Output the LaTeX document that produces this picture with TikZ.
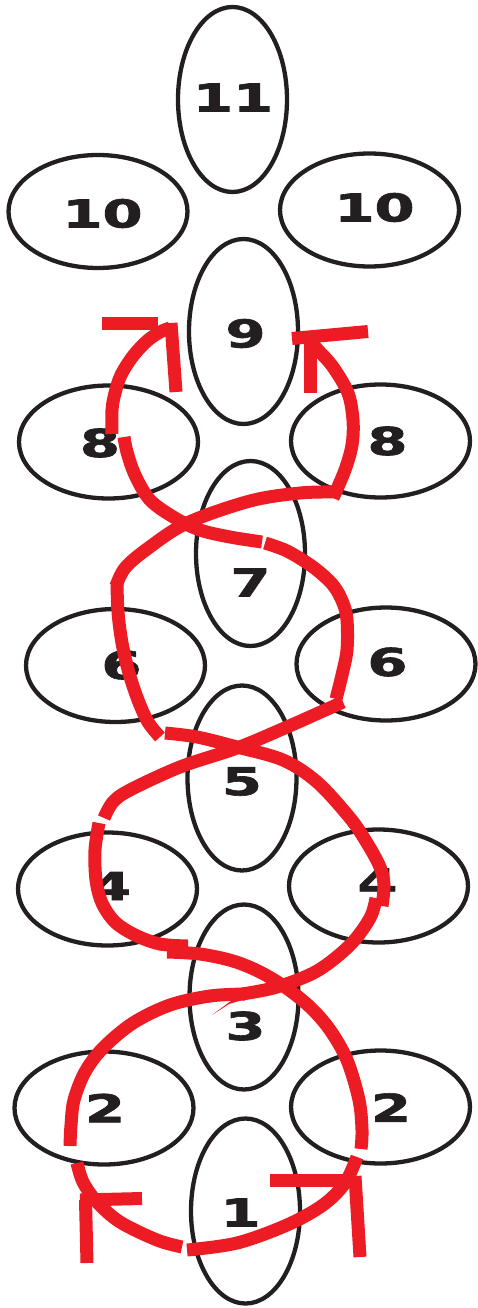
\documentclass[tikz,border=0pt]{standalone}
\usepackage{fontspec}
\newfontfamily\numfont[FakeBold=1.6]{DejaVu Sans Bold}
\usetikzlibrary{shapes.geometric}
\definecolor{ink}{HTML}{231F20}
\definecolor{ropered}{HTML}{ED1C24}
\newcommand\widedigits[1]{\scalebox{1.5}[1]{#1}}
\begin{document}
\begin{tikzpicture}[x=1pt,y=-1pt,
  ellV/.style={ellipse,draw=ink,line width=4.3pt,inner sep=0pt,minimum width=109pt,minimum height=185pt},
  ellH/.style={ellipse,draw=ink,line width=4.3pt,inner sep=0pt,minimum width=179pt,minimum height=113pt},
  lab/.style={inner sep=0pt,text=ink,font=\numfont\fontsize{38.4}{40}\selectfont},
  rope/.style={draw=ropered,line width=13pt,line cap=butt,line join=round},
  bar/.style={draw=ropered,line width=13pt,line cap=butt},
  sm/.style={smooth,tension=0.55}]
\useasboundingbox (0,0) rectangle (477,1308);
% ovals
\node[ellV] (e11) at (232.5,99.5) {};
\node[ellH] (e10l) at (98,211.5) {};
\node[ellH] (e10r) at (369.5,210) {};
\node[ellV] (e9) at (243.5,331.5) {};
\node[ellH] (e8l) at (108.5,442) {};
\node[ellH] (e8r) at (380.5,441) {};
\node[ellV] (e7) at (250.5,553.5) {};
\node[ellH] (e6l) at (115.5,665.5) {};
\node[ellH] (e6r) at (386,664) {};
\node[ellV] (e5) at (242,778) {};
\node[ellH] (e4l) at (107.5,889) {};
\node[ellH] (e4r) at (378.5,886) {};
\node[ellV] (e3) at (244,997) {};
\node[ellH] (e2l) at (104,1108) {};
\node[ellH] (e2r) at (380.5,1107) {};
\node[ellV] (e1) at (245.5,1211) {};
% labels
\node[lab] (t11) at (233,97.5) {\widedigits{11}};
\node[lab] (t10l) at (102.5,213.5) {\widedigits{10}};
\node[lab] (t10r) at (374.5,207.5) {\widedigits{10}};
\node[lab] (t9) at (245.5,333.5) {\widedigits{9}};
\node[lab] (t8l) at (100,443) {\widedigits{8}};
\node[lab] (t8r) at (387.5,441) {\widedigits{8}};
\node[lab] (t7) at (250.5,582.5) {\widedigits{7}};
\node[lab] (t6l) at (121.5,665) {\widedigits{6}};
\node[lab] (t6r) at (387.5,662) {\widedigits{6}};
\node[lab] (t5) at (242,781.5) {\widedigits{5}};
\node[lab] (t4l) at (111,886) {\widedigits{4}};
\node[lab] (t4r) at (377.5,882.5) {\widedigits{4}};
\node[lab] (t3) at (245.5,1026) {\widedigits{3}};
\node[lab] (t2l) at (105,1108) {\widedigits{2}};
\node[lab] (t2r) at (391,1107.5) {\widedigits{2}};
\node[lab] (t1) at (240.5,1212.5) {\widedigits{1}};
% red strand going left from the bottom
\draw[rope] plot[sm] coordinates {(182,1247) (157,1240) (120,1222) (97,1202) (83,1182) (77,1163)};
\draw[rope] plot[sm] coordinates {(70,1146) (71,1125) (74,1100) (85,1072) (103,1048) (133,1023) (170,1005) (210,996) (245,994)};
\fill[ropered] (212,1015) -- (247,989) -- (246,999) -- (229,1004) -- cycle;
\draw[rope] plot[sm] coordinates {(242,994) (277,987) (317,971) (350,945) (370,918) (376,898)};
\draw[rope] plot[sm] coordinates {(382,906) (384,885) (380,867) (367,843) (350,818) (317,782) (283,760) (237,747) (197,737) (165,733)};
\draw[rope] plot[sm] coordinates {(160,737) (148,722) (138,700) (129,673) (122,643) (118,612) (117,582)};
\draw[rope] plot[sm] coordinates {(116,586) (125,568) (147,549) (187,523) (250,501) (300,493) (336,492)};
\draw[rope] plot[sm] coordinates {(333,498) (345,470) (352,445) (353,420) (348,393) (333,367) (318,350) (311,342)};
% red strand going right from the bottom
\draw[rope] plot[sm] coordinates {(187,1250) (237,1243) (287,1225) (323,1205) (345,1183) (357,1157)};
\draw[rope] plot[sm] coordinates {(361,1149) (362,1130) (359,1100) (347,1060) (330,1030) (310,1007) (285,987) (260,972) (233,961) (200,954) (167,952)};
\draw[rope] plot[sm] coordinates {(188,946) (160,944) (135,935) (115,922) (102,903) (96,880) (95,850) (99,823)};
\draw[rope] plot[sm] coordinates {(104,818) (113,802) (130,790) (180,767) (237,748) (287,727) (343,702)};
\draw[rope] plot[sm] coordinates {(336,699) (342,675) (347,650) (347,620) (343,603) (333,585) (313,567) (287,551) (265,543)};
\draw[rope] plot[sm] coordinates {(262,542) (230,537) (200,530) (175,518) (150,500) (135,475) (127,452) (124,437)};
\draw[rope] plot[sm] coordinates {(112,434) (112,410) (115,393) (121,375) (133,356) (147,341) (160,332) (170,328)};
% arrow heads
\coordinate (tlc) at (171,323);
\draw[bar] (102,323.5) -- (158,323.5);
\draw[bar] (tlc) -- (176,392);
\coordinate (trc) at (310,342);
\draw[bar] (292,338.5) -- (368,331.5);
\draw[bar] (trc) -- (310,393);
\coordinate (blc) at (85.5,1200);
\draw[bar] (80,1200) -- (142,1198.5);
\draw[bar] (blc) -- (87,1263);
\coordinate (brc) at (355,1176);
\draw[bar] (270,1180) -- (350,1180);
\draw[bar] (brc) -- (360,1257);
\end{tikzpicture}
\end{document}
